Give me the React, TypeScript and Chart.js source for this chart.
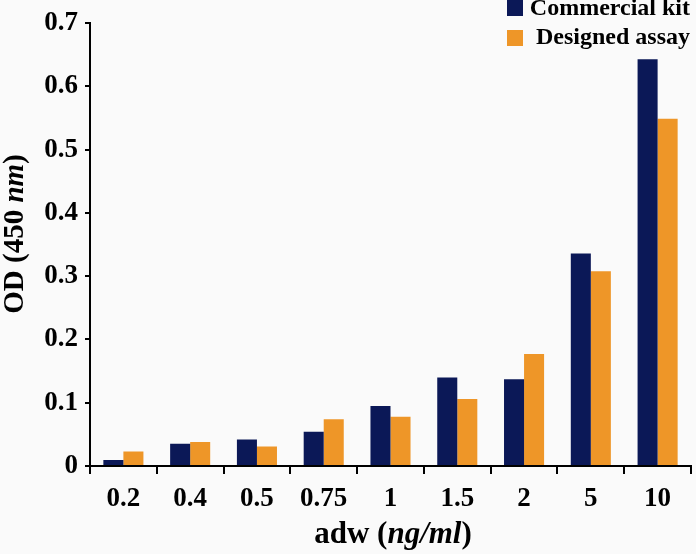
import React, { useEffect, useRef } from "react";
import { Chart, registerables } from "chart.js";

Chart.register(...registerables);

const categories = ["0.2", "0.4", "0.5", "0.75", "1", "1.5", "2", "5", "10"];
const commercialKit = [0.0095, 0.035, 0.042, 0.054, 0.095, 0.14, 0.137, 0.336, 0.643];
const designedAssay = [0.023, 0.038, 0.031, 0.074, 0.078, 0.106, 0.177, 0.308, 0.549];
const seriesNames = ["Commercial kit", "Designed assay"];
const seriesColors = ["#0b1857", "#ee9628"];

const FONT = "'Liberation Serif', 'Times New Roman', serif";

const titlesPlugin = {
  id: "customTitles",
  afterDraw(chart: any) {
    const ctx = chart.ctx as CanvasRenderingContext2D;
    const area = chart.chartArea;
    ctx.save();
    ctx.fillStyle = "#000";
    ctx.textBaseline = "middle";

    // X title with mixed styles
    const xs = 31;
    const xParts: [string, string][] = [
      ["adw (", `bold ${xs}px ` + FONT],
      ["ng/ml", `italic bold ${xs}px ` + FONT],
      [")", `bold ${xs}px ` + FONT],
    ];
    let total = 0;
    xParts.forEach(([t, f]) => { ctx.font = f; total += ctx.measureText(t).width; });
    let x = 393 - total / 2;
    ctx.textAlign = "left";
    xParts.forEach(([t, f]) => { ctx.font = f; ctx.fillText(t, x, 535); x += ctx.measureText(t).width; });

    // Y title rotated
    const ys = 29;
    const yParts: [string, string][] = [
      ["OD (450 ", `bold ${ys}px ` + FONT],
      ["nm", `italic bold ${ys}px ` + FONT],
      [")", `bold ${ys}px ` + FONT],
    ];
    total = 0;
    yParts.forEach(([t, f]) => { ctx.font = f; total += ctx.measureText(t).width; });
    ctx.save();
    ctx.translate(16, 234);
    ctx.rotate(-Math.PI / 2);
    let y = -total / 2;
    yParts.forEach(([t, f]) => { ctx.font = f; ctx.fillText(t, y, 0); y += ctx.measureText(t).width; });
    ctx.restore();

    // Legend
    ctx.font = "bold 24px " + FONT;
    ctx.textAlign = "right";
    const rows = [9, 38];
    seriesNames.forEach((name, i) => {
      ctx.fillStyle = seriesColors[i];
      ctx.fillRect(507, rows[i] - 8 + (i === 0 ? -1 : 0), 16, 16);
      ctx.fillStyle = "#000";
      ctx.fillText(name, 690, rows[i]);
    });
    ctx.restore();
  },
};

const bgPlugin = {
  id: "bg",
  beforeDraw(chart: any) {
    const ctx = chart.ctx;
    ctx.save();
    ctx.fillStyle = "#fafafa";
    ctx.fillRect(0, 0, chart.width, chart.height);
    ctx.restore();
  },
};

export default function App() {
  const ref = useRef<HTMLCanvasElement | null>(null);
  useEffect(() => {
    if (!ref.current) return;
    const chart = new Chart(ref.current, {
      type: "bar",
      data: {
        labels: categories,
        datasets: [
          { label: seriesNames[0], data: commercialKit, backgroundColor: seriesColors[0], categoryPercentage: 0.6, barPercentage: 1.0 },
          { label: seriesNames[1], data: designedAssay, backgroundColor: seriesColors[1], categoryPercentage: 0.6, barPercentage: 1.0 },
        ],
      },
      options: {
        animation: false,
        responsive: false,
        maintainAspectRatio: false,
        layout: { padding: { top: 22, right: 5, left: 0, bottom: 0 } },
        plugins: { legend: { display: false }, tooltip: { enabled: false } },
        scales: {
          x: {
            afterFit: (s: any) => { s.height = 88; },
            border: { display: true, color: "#000", width: 2 },
            grid: { offset: true, drawOnChartArea: false, drawTicks: true, tickLength: 8, color: "#000", lineWidth: 2 },
            ticks: { color: "#000", font: { family: FONT, size: 27, weight: "bold" }, padding: 9, maxRotation: 0 },
          },
          y: {
            min: 0,
            max: 0.7,
            afterFit: (s: any) => { s.width = 90; },
            border: { display: true, color: "#000", width: 2 },
            grid: { drawOnChartArea: false, drawTicks: true, tickLength: 5, color: "#000", lineWidth: 2 },
            ticks: {
              stepSize: 0.1,
              color: "#000",
              font: { family: FONT, size: 27, weight: "bold" },
              padding: 7,
              callback: (v: any) => (Number(v) === 0 ? "0" : Number(v).toFixed(1)),
            },
          },
        },
      },
      plugins: [bgPlugin, titlesPlugin],
    } as any);
    return () => chart.destroy();
  }, []);
  return (
    <div style={{ position: "absolute", left: 0, top: 0, width: 696, height: 554 }}>
      <canvas ref={ref} width={696} height={554} style={{ display: "block" }} />
    </div>
  );
}
